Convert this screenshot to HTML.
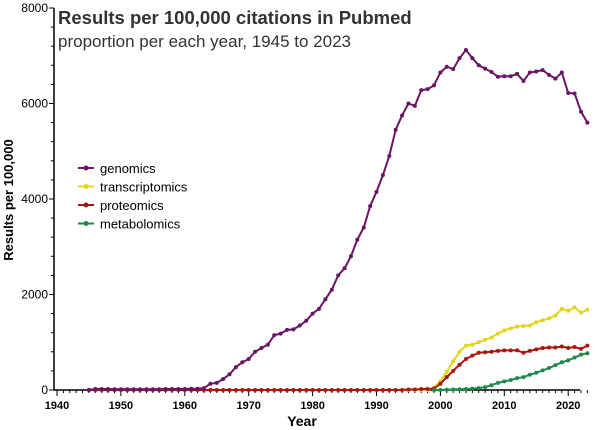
<!DOCTYPE html>
<html><head><meta charset="utf-8"><style>
body{margin:0;background:#fff;}
svg{display:block;font-family:"Liberation Sans",sans-serif;}
</style></head><body>
<svg id="s" width="600" height="430" viewBox="0 0 600 430">
<text x="58" y="24" font-size="18.5" font-weight="bold" fill="#333">Results per 100,000 citations in Pubmed</text>
<text x="58" y="47" font-size="17" fill="#333">proportion per each year, 1945 to 2023</text>
<text x="302" y="426" font-size="14" font-weight="bold" text-anchor="middle" fill="#000">Year</text>
<text transform="translate(13,200) rotate(-90)" font-size="13" font-weight="bold" text-anchor="middle" fill="#000">Results per 100,000</text>
</svg>
<script>
const s=document.getElementById('s'),NS='http://www.w3.org/2000/svg';
function el(t,a,txt){const e=document.createElementNS(NS,t);for(const k in a)e.setAttribute(k,a[k]);if(txt!==undefined)e.textContent=txt;s.appendChild(e);return e;}
const X=y=>57+(y-1940)*6.39, Y=v=>390-v*0.04775;
const AX=54;
el('line',{x1:AX,y1:8,x2:AX,y2:390,stroke:'#000','stroke-width':1.5});
el('line',{x1:AX,y1:390,x2:580,y2:390,stroke:'#000','stroke-width':1.5});
for(let v=0;v<=8000;v+=400){const maj=v%2000==0;el('line',{x1:maj?AX-5:AX-3,y1:Y(v),x2:AX,y2:Y(v),stroke:'#000','stroke-width':1});
if(maj)el('text',{x:AX-6,y:Y(v)+4,'font-size':12,'text-anchor':'end',fill:'#000'},v);}
for(let y=1940;y<=2023;y++){const maj=y%10==0;el('line',{x1:X(y),y1:390,x2:X(y),y2:maj?396:393,stroke:'#000','stroke-width':1});
if(maj)el('text',{x:X(y),y:409,'font-size':11,'font-weight':'bold','text-anchor':'middle',fill:'#000'},y);}
const g=[0,20,20,20,15,15,15,15,15,15,15,15,20,20,20,20,25,25,40,130,150,230,330,480,580,650,800,880,950,1150,1180,1260,1270,1350,1450,1600,1700,1900,2100,2400,2550,2800,3150,3400,3850,4150,4500,4900,5450,5750,6000,5950,6280,6300,6380,6650,6770,6720,6950,7120,6950,6800,6730,6660,6560,6570,6570,6620,6470,6650,6670,6700,6600,6520,6650,6220,6210,5830,5600];
function ser(start,vals,col){const pts=vals.map((v,i)=>[X(start+i),Y(v)]);
el('polyline',{points:pts.map(p=>p.join(',')).join(' '),fill:'none',stroke:col,'stroke-width':2});
pts.forEach(p=>el('circle',{cx:p[0],cy:p[1],r:2,fill:col}));}
const z=n=>Array(n).fill(0);
ser(1945,[...z(54),50,180,380,600,800,930,950,1000,1050,1100,1180,1250,1290,1330,1340,1350,1420,1460,1500,1560,1700,1660,1730,1620,1680],'#e3d41c');
ser(1945,[...z(50),10,10,20,20,30,130,270,400,530,650,720,780,790,800,820,830,830,830,780,820,850,880,890,890,910,880,900,860,930],'#a8170f');
ser(1999,[0,0,5,10,15,20,30,40,60,100,150,180,210,250,270,320,360,410,460,520,580,620,680,740,770],'#1c8a4a');
ser(1945,g,'#6a1466');
[['genomics','#6a1466'],['transcriptomics','#e3d41c'],['proteomics','#a8170f'],['metabolomics','#1c8a4a']].forEach((l,i)=>{const y=168+i*18.5;
el('line',{x1:78,y1:y,x2:94,y2:y,stroke:l[1],'stroke-width':2});el('circle',{cx:86,cy:y,r:2.5,fill:l[1]});
el('text',{x:100,y:y+5,'font-size':13,fill:'#000'},l[0]);});
</script>
</body></html>
